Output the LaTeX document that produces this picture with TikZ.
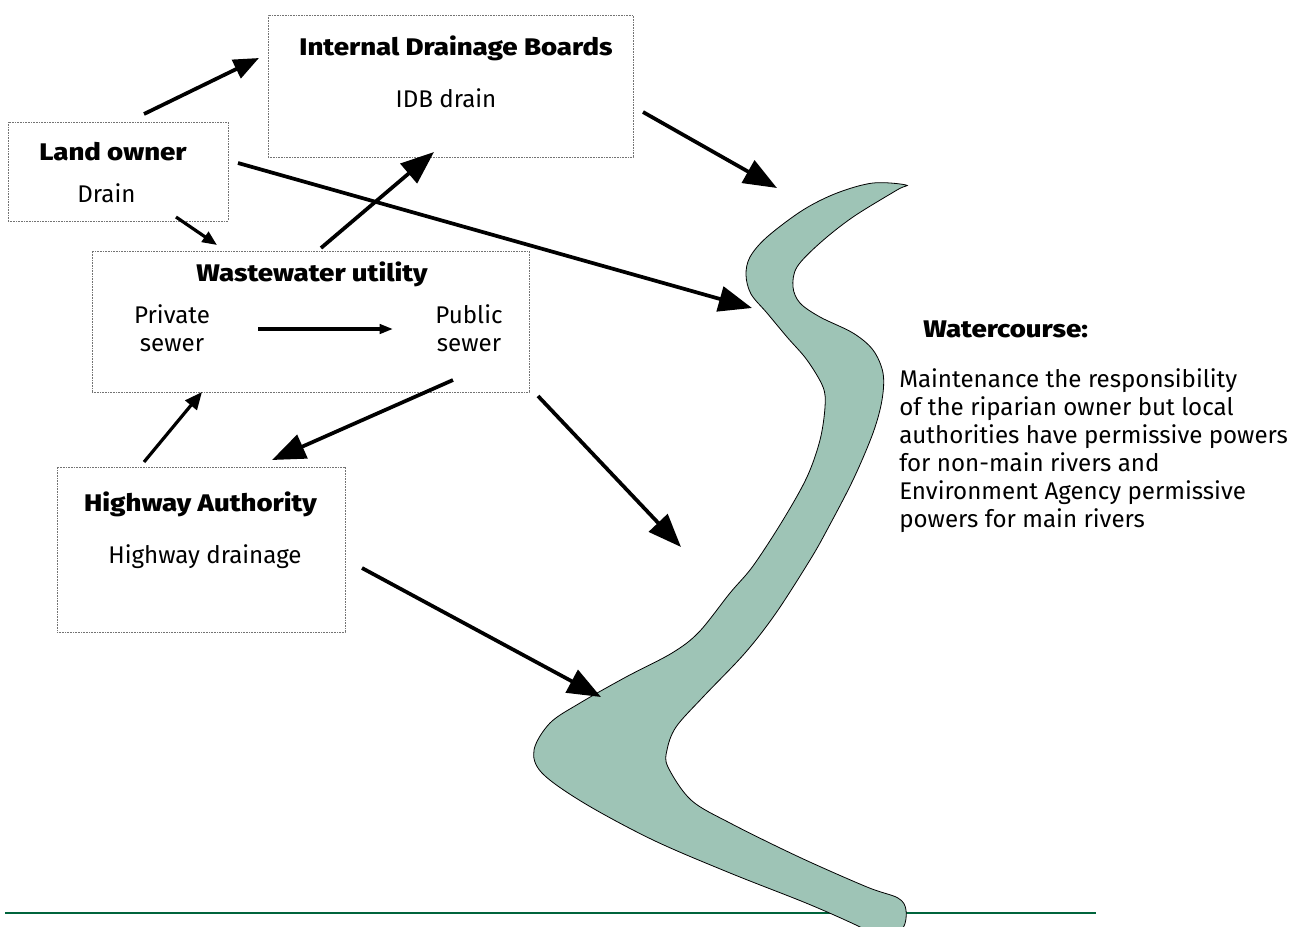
\documentclass[tikz,border=0pt]{standalone}
\usepackage{fontspec}
\IfFontExistsTF{Fira Sans Heavy}
  {\setmainfont{Fira Sans}[BoldFont={Fira Sans Heavy},BoldFeatures={FakeStretch=1.15}]}
  {\IfFontExistsTF{Fira Sans ExtraBold}
    {\setmainfont{Fira Sans}[BoldFont={Fira Sans ExtraBold},BoldFeatures={FakeStretch=1.15}]}
    {\setmainfont{Fira Sans}[BoldFeatures={FakeBold=1.2,FakeStretch=1.15}]}}
\usetikzlibrary{arrows.meta}
\definecolor{riverfill}{RGB}{158,196,182}
\definecolor{groundgreen}{RGB}{0,100,60}

\begin{document}
\begin{tikzpicture}[x=0.75pt,y=-0.75pt,
  box/.style={draw=black!55,line width=0.6pt,dash pattern=on 0.6pt off 0.6pt,inner sep=0pt},
  head/.style={font=\fontsize{18}{21}\selectfont\bfseries,inner sep=0pt},
  txt/.style={font=\fontsize{18.1}{21}\selectfont,inner sep=0pt},
  flow/.style={line width=2.8pt,-{Triangle[length=25pt,width=19pt]}},
  smallflow/.style={line width=2.4pt,-{Triangle[length=11pt,width=9pt]}}]
\useasboundingbox (0,0) rectangle (1293,926);
\clip (0,0) rectangle (1293,926);

  \node (idb) at (450.5,86) [box,minimum width=273.75pt,minimum height=106.5pt] {};
  \node (lo) at (118,171.5) [box,minimum width=165pt,minimum height=74.25pt] {};
  \node (ww) at (310.5,321.5) [box,minimum width=327.75pt,minimum height=105.75pt] {};
  \node (hw) at (201,549.5) [box,minimum width=216pt,minimum height=123.75pt] {};

  \node (idbt) at (456,55) [head,anchor=base] {Internal Drainage Boards};
  \node (idbs) at (446,107) [txt,anchor=base] {IDB drain};
  \node (lot) at (113,160) [head,anchor=base] {Land owner};
  \node (los) at (106.5,202) [txt,anchor=base] {Drain};
  \node (wwt) at (312,281) [head,anchor=base] {Wastewater utility};
  \node (priv) at (172,304) [txt,anchor=north,align=center] {Private\\sewer};
  \node (publ) at (469,304) [txt,anchor=north,align=center] {Public\\sewer};
  \node (hwt) at (200.5,511) [head,anchor=base] {Highway Authority};
  \node (hws) at (205,563) [txt,anchor=base] {Highway drainage};
  \node (wct) at (923,337) [head,anchor=base west] {Watercourse:};
  \node (wcs) at (899,368) [txt,anchor=north west,align=left] {Maintenance the responsibility\\of the riparian owner but local\\authorities have permissive powers\\for non-main rivers and\\Environment Agency permissive\\powers for main rivers};

  % river
  \draw [groundgreen,line width=1.5pt] (5,913) -- (1096,913);
  \draw [fill=riverfill,line width=0.6pt] plot [smooth cycle,tension=0.55] coordinates {
    (906,185) (873,183) (837,193) (803,210) (767,237) (750,257) (746,275) (751,294)
    (767,313) (787,337) (807,360) (823,387) (825,407) (820,440) (807,477) (783,520)
    (753,566) (730,593) (699,632) (672,653) (626,677) (580,703) (550,723) (534,750)
    (542,773) (584,803) (653,840) (730,873) (806,903) (856,925) (885,940) (903,928)
    (906,910) (898,898) (867,887) (799,857) (730,823) (691,800) (668,767) (667,750)
    (676,727) (703,697) (745,653) (776,613) (810,560) (827,530) (853,480) (873,433)
    (882,400) (883,373) (873,350) (853,333) (820,317) (800,303) (793,287) (797,267)
    (820,243) (853,217) (897,190)};

  \coordinate (lo1) at (144,114);   \coordinate (idb1) at (259,58);
  \coordinate (lo2) at (176,217);   \coordinate (ww1) at (217,245);
  \coordinate (ww2) at (321,248);   \coordinate (idb2) at (434,152);
  \coordinate (lo3) at (238,163);   \coordinate (rv1) at (752,308);
  \coordinate (idb3) at (643,112);  \coordinate (rv2) at (777,188);
  \coordinate (ww3) at (538,396);   \coordinate (rv3) at (681,547);
  \coordinate (ww4) at (453,380);   \coordinate (hw1) at (272,460);
  \coordinate (hw2) at (144,462);   \coordinate (ww5) at (202,392);
  \coordinate (hw3) at (362,568);   \coordinate (rv4) at (601,697);
  \coordinate (priv1) at (258,329); \coordinate (publ1) at (393,329);

  \draw [flow,-{Triangle[length=19pt,width=15pt]}] (lo1) to (idb1);
  \draw [smallflow] (lo2) to (ww1);
  \draw [flow] (ww2) to (idb2);
  \draw [flow] (lo3) to (rv1);
  \draw [flow] (idb3) to (rv2);
  \draw [flow] (ww3) to (rv3);
  \draw [flow] (ww4) to (hw1);
  \draw [smallflow,-{Triangle[length=13pt,width=11pt]}] (hw2) to (ww5);
  \draw [flow] (hw3) to (rv4);
  \draw [smallflow,-{Triangle[length=10pt,width=7pt]}] (priv1) to (publ1);

\end{tikzpicture}
\end{document}
